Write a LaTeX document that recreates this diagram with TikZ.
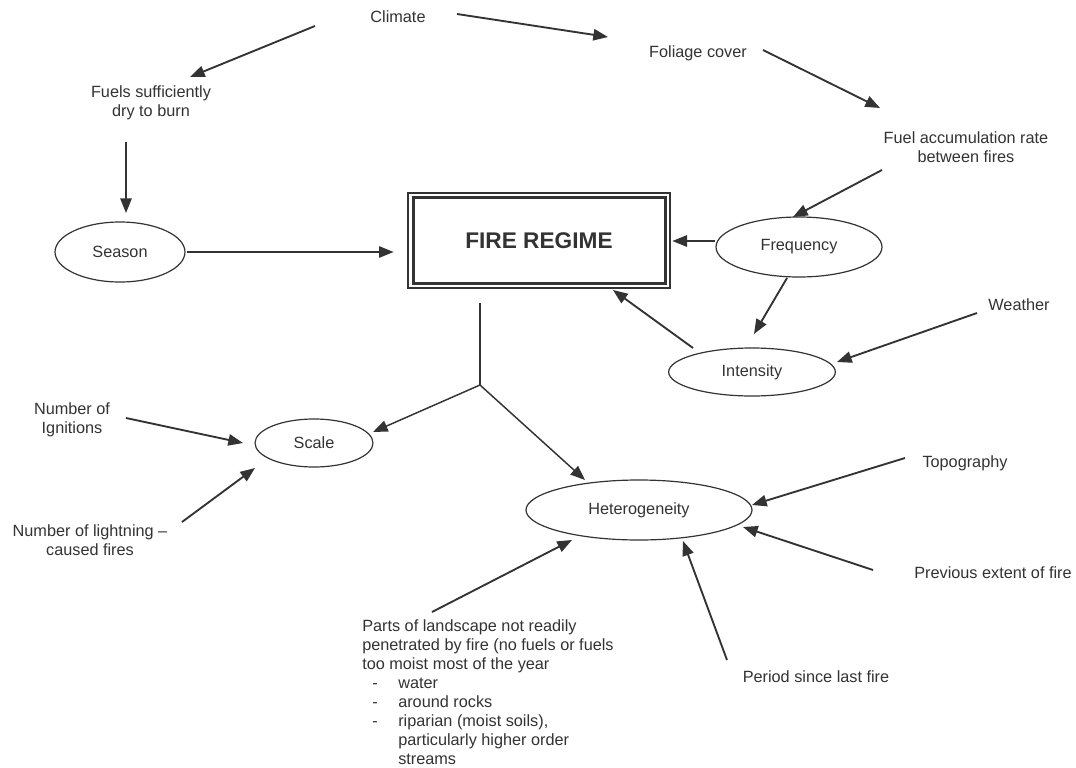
\documentclass[tikz,border=0pt]{standalone}
\usepackage{fontspec}
\setmainfont{Liberation Sans}
\usetikzlibrary{arrows.meta,shapes.geometric,calc}
\definecolor{ink}{HTML}{333333}
\begin{document}
\begin{tikzpicture}[x=0.75pt,y=-0.75pt,
  every node/.style={font=\fontsize{12.2pt}{14.3pt}\selectfont, text=ink},
  lbl/.style={align=center, inner sep=0pt},
  oval/.style={draw=ink, ellipse, line width=0.9pt, inner sep=0pt},
  arr/.style={draw=ink, line width=1.4pt, -{Triangle[length=11pt,width=8.5pt]}},
  plainline/.style={draw=ink, line width=1.1pt},
]
\useasboundingbox[fill=white] (0,0) rectangle (1076,768);

% text labels
\node[lbl] (climate) at (398,17) {Climate};
\node[lbl] (foliage) at (698,53) {Foliage cover};
\node[lbl] (fuels) at (151,103) {Fuels sufficiently\\dry to burn};
\node[lbl] (fuelacc) at (966,147) {Fuel accumulation rate\\between fires};
\node[lbl] (weather) at (1019,305) {Weather};
\node[lbl] (numign) at (72,420) {Number of\\Ignitions};
\node[lbl] (numlight) at (90,540) {Number of lightning –\\caused fires};
\node[lbl] (topo) at (965,463) {Topography};
\node[lbl] (prevext) at (993,573) {Previous extent of fire};
\node[lbl] (period) at (816,677) {Period since last fire};
\node[anchor=north west, align=left, inner sep=0pt] (parts) at (362,619)
 {Parts of landscape not readily\\
  penetrated by fire (no fuels or fuels\\
  too moist most of the year\\
  \hspace*{7.5pt}\makebox[19.5pt][l]{-}water\\
  \hspace*{7.5pt}\makebox[19.5pt][l]{-}around rocks\\
  \hspace*{7.5pt}\makebox[19.5pt][l]{-}riparian (moist soils),\\
  \hspace*{27pt}particularly higher order\\
  \hspace*{27pt}streams};

% ellipses
\node[oval, minimum width=97.5pt, minimum height=45pt] (season) at (120,252) {Season};
\node[oval, minimum width=124.5pt, minimum height=45pt] (freq) at (799,247) {Frequency};
\node[oval, minimum width=125pt, minimum height=36pt] (intensity) at (752,372) {Intensity};
\node[oval, minimum width=88.5pt, minimum height=36pt] (scale) at (314,443) {Scale};
\node[oval, minimum width=169.5pt, minimum height=45pt] (hetero) at (639,510) {Heterogeneity};

% fire regime box
\node[draw=ink, line width=2pt, minimum width=196.5pt, minimum height=71.25pt, inner sep=0pt,
      font=\fontsize{17pt}{20pt}\selectfont\bfseries] (fire) at (539,240.5) {FIRE REGIME};
\draw[ink, line width=2pt] ($(fire.north west)+(7,6)$) rectangle ($(fire.south east)+(-6,-6)$);

% junction
\coordinate (j) at (480,385);

% connectors
\draw[arr] ($(climate)+(59,-3)$) -- ($(foliage)+(-90,-16)$);
\draw[arr] ($(climate)+(-83,9)$) -- ($(fuels)+(39,-26)$);
\draw[arr] ($(fuels)+(-25,39)$) -- ($(season)+(6,-39)$);
\draw[arr] ($(foliage)+(65,-3)$) -- ($(fuelacc)+(-86,-39)$);
\draw[arr] ($(fuelacc)+(-84,23)$) -- ($(freq)+(-6,-30)$);
\draw[arr] ($(freq.west)+(0,-6)$) -- ($(fire.east)+(1,0.5)$);
\draw[arr] ($(season.east)+(1,0)$) -- ($(fire.west |- season)+(-13,0)$);
\draw[arr] ($(freq)+(-12,31)$) -- ($(intensity)+(2,-38)$);
\draw[arr] ($(intensity)+(-59,-24)$) -- ($(fire)+(74,49.5)$);
\draw[arr] ($(weather)+(-42,8)$) -- ($(intensity)+(85,-10)$);
\draw[plainline] ($(fire.south -| j)+(0,14)$) -- (j);
\draw[arr, line width=1.1pt] (j) -- ($(scale)+(59,-11)$);
\draw[arr, line width=1.1pt] (j) -- ($(hetero)+(-54,-30)$);
\draw[arr] ($(numign)+(54,-2)$) -- ($(scale)+(-71,0)$);
\draw[arr] ($(numlight)+(92,-18)$) -- ($(scale)+(-59,25)$);
\draw[arr] ($(topo)+(-60,-5)$) -- ($(hetero)+(113,-5)$);
\draw[arr] ($(prevext)+(-120,-3)$) -- ($(hetero)+(104,17)$);
\draw[arr] ($(period)+(-89,-17)$) -- ($(hetero)+(44,31)$);
\draw[arr] ($(parts.north west)+(70,-7)$) -- ($(hetero)+(-67,30)$);
\end{tikzpicture}
\end{document}
